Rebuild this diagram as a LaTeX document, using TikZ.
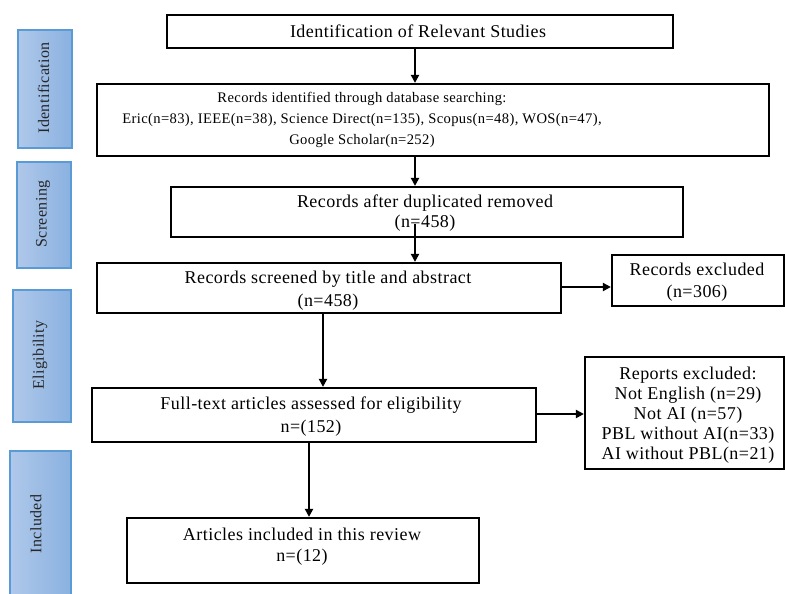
\documentclass[tikz,border=0pt]{standalone}
\usepackage{fontspec}
\setmainfont{Liberation Serif}[LetterSpace=2.5]
\usetikzlibrary{arrows.meta}
\definecolor{sidefillL}{HTML}{AFC8EA}
\definecolor{sidefillR}{HTML}{8AB1E0}
\definecolor{sideedge}{HTML}{5B9BD5}
\definecolor{sidetext}{HTML}{262626}
\begin{document}
\begin{tikzpicture}[x=1pt,y=-1pt,
  box/.style={draw=black, line width=2.2pt, rectangle, inner sep=0pt},
  side/.style={draw=sideedge, line width=1.6pt, left color=sidefillL, right color=sidefillR, inner sep=0pt},
  sidelabel/.style={rotate=90, text=sidetext, inner sep=0pt, font=\fontsize{16}{18}\selectfont},
  txt/.style={align=center, inner sep=0pt, font=\fontsize{18}{23}\selectfont},
  arr/.style={line width=2.2pt, -{Triangle[length=8pt,width=8pt]}}]
\useasboundingbox (0,0) rectangle (785,594);
% side phase boxes
\begin{scope}
\clip (0,0) rectangle (785,594);
\node[side, minimum width=54pt, minimum height=118pt] (s1) at (45,89) {};
\node[side, minimum width=54pt, minimum height=106pt] (s2) at (44,215) {};
\node[side, minimum width=58pt, minimum height=132pt] (s3) at (42,356) {};
\node[side, minimum width=61pt, minimum height=150pt] (s4) at (40.5,526) {};
\end{scope}
\node[sidelabel] (l1) at (43.5,88) {Identification};
\node[sidelabel] (l2) at (43,214) {Screening};
\node[sidelabel] (l3) at (40,355) {Eligibility};
\node[sidelabel] (l4) at (36,524) {Included};
% main boxes
\node[box, minimum width=506pt, minimum height=33pt] (b1) at (420,31.5) {};
\node[box, minimum width=672pt, minimum height=72pt] (b2) at (433,120) {};
\node[box, minimum width=512pt, minimum height=50pt] (b3) at (427,212) {};
\node[box, minimum width=464pt, minimum height=50pt] (b4) at (329,288) {};
\node[box, minimum width=172pt, minimum height=51pt] (ex1) at (698,280.5) {};
\node[box, minimum width=444pt, minimum height=54pt] (b5) at (314,415) {};
\node[box, minimum width=199pt, minimum height=112pt] (ex2) at (684.5,413) {};
\node[box, minimum width=352pt, minimum height=65pt] (b6) at (303,550.5) {};
% texts
\node[txt] (t1) at (418,31) {Identification of Relevant Studies};
\node[txt, font=\fontsize{14.6}{21}\selectfont] (t2) at (362,120) {Records identified through database searching:\\Eric(n=83), IEEE(n=38), Science Direct(n=135), Scopus(n=48), WOS(n=47),\\Google Scholar(n=252)};
\node[txt, font=\fontsize{18}{20}\selectfont] (t3) at (425,213) {Records after duplicated removed\\(n=458)};
\node[txt] (t4) at (328,290.5) {Records screened by title and abstract\\(n=458)};
\node[txt, font=\fontsize{18}{22}\selectfont] (tx1) at (697,282) {Records excluded\\(n=306)};
\node[txt] (t5) at (311,416.5) {Full-text articles assessed for eligibility\\n=(152)};
\node[txt, font=\fontsize{18}{20}\selectfont] (tx2) at (688,415) {Reports excluded:\\Not English (n=29)\\Not AI (n=57)\\PBL without AI(n=33)\\AI without PBL(n=21)};
\node[txt, font=\fontsize{18}{21}\selectfont] (t6) at (302,546.5) {Articles included in this review\\n=(12)};
% connectors
\draw[arr] ([xshift=-5pt]b1.south) -- ([xshift=-5pt]b1.south |- b2.north);
\draw[arr] ([xshift=-18pt]b2.south) -- ([xshift=-18pt]b2.south |- b3.north);
\coordinate (c3) at (415,224);
\draw[arr] (c3) -- (c3 |- b4.north);
\draw[arr] ([yshift=1pt]b4.east) -- ([yshift=1pt]b4.east -| ex1.west);
\draw[arr] ([xshift=-6pt]b4.south) -- ([xshift=-6pt]b4.south |- b5.north);
\draw[arr] ([yshift=1pt]b5.east) -- ([yshift=1pt]b5.east -| ex2.west);
\draw[arr] ([xshift=-5pt]b5.south) -- ([xshift=-5pt]b5.south |- b6.north);
\end{tikzpicture}
\end{document}
